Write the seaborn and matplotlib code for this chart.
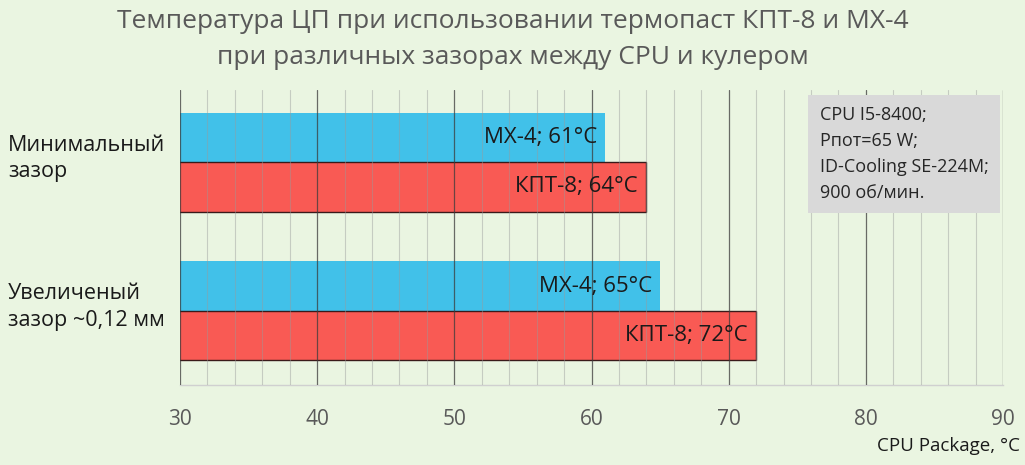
import pandas as pd
import seaborn as sns
import matplotlib.pyplot as plt
from matplotlib.ticker import MultipleLocator
from matplotlib.transforms import ScaledTranslation

# values
gaps = ['Минимальный\nзазор', 'Увеличеный\nзазор ~0,12 мм']
pastes = ['МХ-4', 'КПТ-8']
mx4 = [61, 65]
kpt8 = [64, 72]
note_lines = ['CPU I5-8400;', 'Рпот=65 W;', 'ID-Cooling SE-224M;', '900 об/мин.']

df = pd.DataFrame({
    'gap': gaps * 2,
    'paste': [pastes[0]] * 2 + [pastes[1]] * 2,
    'temp': mx4 + kpt8,
})

bg = '#EAF5E1'
blue = '#41C1E9'
red = '#F95A54'

sns.set_style('white')
plt.rcParams['font.family'] = ['Open Sans', 'DejaVu Sans']

fig = plt.figure(figsize=(10.25, 4.65), dpi=100, facecolor=bg)
ax = fig.add_axes([0.1756, 0.172, 0.803, 0.634])
ax.set_facecolor(bg)

sns.barplot(data=df, x='temp', y='gap', hue='paste', hue_order=pastes,
            palette=[blue, red], width=0.665, orient='h', saturation=1,
            legend=False, ax=ax, zorder=2)

# red bars get a thin dark outline
for bar in ax.containers[1]:
    bar.set_edgecolor('#3a1a1a')
    bar.set_linewidth(1.0)
for bar in ax.containers[0]:
    bar.set_linewidth(0)

# labels inside the bar ends
for cont, name in zip(ax.containers, pastes):
    for bar, v in zip(cont, cont.datavalues):
        ax.annotate(f'{name}; {v:g}°C', (v, bar.get_y() + bar.get_height() / 2),
                    xytext=(-6, 0), textcoords='offset points',
                    ha='right', va='center', fontsize=16, color='#1a1a1a', zorder=4)

ax.set_xlim(30, 90)
ax.set_ylim(1.5, -0.485)
ax.xaxis.set_major_locator(MultipleLocator(10))
ax.xaxis.set_minor_locator(MultipleLocator(2))
ax.grid(True, which='minor', axis='x', color='#9a9a9a', lw=0.8, alpha=0.45, zorder=3)
ax.grid(True, which='major', axis='x', color='#3c3c3c', lw=0.9, alpha=0.75, zorder=3)
ax.set_axisbelow(False)

for s in ['top', 'right', 'left']:
    ax.spines[s].set_visible(False)
ax.spines['bottom'].set_color('#d0d0d0')
ax.spines['bottom'].set_linewidth(1)

ax.tick_params(axis='x', which='both', length=0, pad=17, labelsize=15, labelcolor='#595959')
ax.tick_params(axis='y', length=0, pad=124, labelsize=15.5, labelcolor='#1a1a1a')
shift_up = ScaledTranslation(0, 9 / 100, fig.dpi_scale_trans)
for lab in ax.get_yticklabels():
    lab.set_ha('left')
    lab.set_multialignment('left')
    lab.set_linespacing(1.35)
    lab.set_transform(lab.get_transform() + shift_up)

ax.set_ylabel('')
ax.set_xlabel('CPU Package, °C', fontsize=13.5, color='#1a1a1a')
ax.xaxis.set_label_coords(1.021, -0.178)
ax.xaxis.label.set_ha('right')

ax.text(0.777, 0.945, '\n'.join(note_lines), transform=ax.transAxes,
        ha='left', va='top', fontsize=13, color='#262626', linespacing=1.55,
        zorder=5, bbox=dict(boxstyle='square,pad=0.65', fc='#D9D9D9', ec='none'))

fig.suptitle('Температура ЦП при использовании термопаст КПТ-8 и МХ-4\n'
             'при различных зазорах между CPU и кулером',
             x=0.5, y=0.98, fontsize=19, color='#595959', linespacing=1.55)

fig.savefig('out.png', dpi=100, facecolor=bg)
